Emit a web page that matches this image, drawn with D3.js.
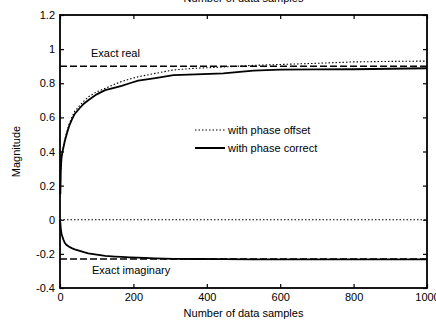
<!DOCTYPE html>
<html>
<head>
<meta charset="utf-8">
<script src="https://cdn.jsdelivr.net/npm/d3@7"></script>
<style>
	body { margin: 0; background: #ffffff; }
	text { font-family: "Liberation Sans", Arial, sans-serif; fill: #000000; }
</style>
</head>
<body>
<div id="chart"></div>
<script>
// number of data samples where the curves were read
const samples = [1, 2, 4, 6, 9, 13, 18, 25, 32, 40, 54, 65, 77, 100, 123, 150, 168, 190, 213, 260, 309, 370, 445, 527, 600, 700, 800, 900, 1000];
const realOffset = [0.15, 0.29, 0.37, 0.40, 0.43, 0.47, 0.51, 0.56, 0.60, 0.635, 0.67, 0.695, 0.72, 0.75, 0.77, 0.795, 0.81, 0.825, 0.838, 0.858, 0.878, 0.888, 0.895, 0.905, 0.91, 0.917, 0.925, 0.928, 0.93];
const realCorrect = [0.15, 0.28, 0.36, 0.39, 0.42, 0.46, 0.50, 0.55, 0.585, 0.62, 0.655, 0.68, 0.70, 0.735, 0.76, 0.775, 0.785, 0.80, 0.815, 0.83, 0.848, 0.852, 0.858, 0.874, 0.88, 0.881, 0.882, 0.885, 0.888];
const imagOffset = [0, 0, 0, 0, 0, 0, 0, 0, 0, 0, 0, 0, 0, 0, 0, 0, 0, 0, 0, 0, 0, 0, 0, 0, 0, 0, 0, 0, 0];
const imagCorrect = [-0.02, -0.05, -0.08, -0.095, -0.115, -0.135, -0.148, -0.158, -0.166, -0.174, -0.183, -0.19, -0.197, -0.205, -0.212, -0.216, -0.218, -0.22, -0.222, -0.226, -0.229, -0.23, -0.231, -0.232, -0.232, -0.232, -0.232, -0.232, -0.232];
const exactReal = 0.9;
const exactImag = -0.23;
const xTicks = [0, 200, 400, 600, 800, 1000];
const yTicks = [-0.4, -0.2, 0, 0.2, 0.4, 0.6, 0.8, 1, 1.2];
const legendLabels = ['with phase offset', 'with phase correct'];

const width = 436;
const height = 322;
const margin = {top: 15, right: 9, bottom: 34, left: 60};

var svg = d3.select('#chart')
	.append('svg')
	.attr('width', width)
	.attr('height', height);

var xScale = d3.scaleLinear()
	.domain([0, 1000])
	.range([margin.left, width - margin.right]);

var yScale = d3.scaleLinear()
	.domain([-0.4, 1.2])
	.range([height - margin.bottom, margin.top]);

const fmt = d => String(+d.toFixed(1));

function styleAxis(g) {
	g.select('.domain').remove();
	g.selectAll('line').attr('stroke', '#000000').attr('stroke-width', 1.2);
	g.selectAll('text').attr('font-size', 11).attr('font-family', '"Liberation Sans", Arial, sans-serif');
}

svg.append('g')
	.attr('transform', `translate(0,${yScale(-0.4)})`)
	.call(d3.axisBottom(xScale).tickValues(xTicks).tickSize(-4).tickPadding(5).tickFormat(d3.format('d')))
	.call(styleAxis);

svg.append('g')
	.attr('transform', `translate(0,${yScale(1.2)})`)
	.call(d3.axisTop(xScale).tickValues(xTicks).tickSize(-4).tickFormat(''))
	.call(styleAxis);

svg.append('g')
	.attr('transform', `translate(${xScale(0)},0)`)
	.call(d3.axisLeft(yScale).tickValues(yTicks).tickSize(-4).tickPadding(5).tickFormat(fmt))
	.call(styleAxis);

svg.append('g')
	.attr('transform', `translate(${xScale(1000)},0)`)
	.call(d3.axisRight(yScale).tickValues(yTicks).tickSize(-4).tickFormat(''))
	.call(styleAxis);

svg.append('rect')
	.attr('x', xScale(0))
	.attr('y', yScale(1.2))
	.attr('width', xScale(1000) - xScale(0))
	.attr('height', yScale(-0.4) - yScale(1.2))
	.attr('fill', 'none')
	.attr('stroke', '#000000')
	.attr('stroke-width', 1.8);

// exact values
svg.selectAll('.exact')
	.data([exactReal, exactImag])
	.enter()
	.append('line')
	.attr('x1', xScale(0))
	.attr('x2', xScale(1000))
	.attr('y1', d => yScale(d))
	.attr('y2', d => yScale(d))
	.attr('stroke', '#000000')
	.attr('stroke-width', 1.4)
	.attr('stroke-dasharray', '7,3');

var line = d3.line()
	.x(d => xScale(d[0]))
	.y(d => yScale(d[1]));

const pairs = (ys) => samples.map((n, i) => [n, ys[i]]);

svg.append('path')
	.datum([[0, 0]].concat(pairs(imagOffset)))
	.attr('d', line)
	.attr('fill', 'none')
	.attr('stroke', '#000000')
	.attr('stroke-width', 1.1)
	.attr('stroke-dasharray', '1.5,2');

svg.append('path')
	.datum(pairs(realOffset))
	.attr('d', line)
	.attr('fill', 'none')
	.attr('stroke', '#000000')
	.attr('stroke-width', 1.1)
	.attr('stroke-dasharray', '1.5,2');

svg.append('path')
	.datum(pairs(realCorrect))
	.attr('d', line)
	.attr('fill', 'none')
	.attr('stroke', '#000000')
	.attr('stroke-width', 1.8);

svg.append('path')
	.datum([[0, 0]].concat(pairs(imagCorrect)))
	.attr('d', line)
	.attr('fill', 'none')
	.attr('stroke', '#000000')
	.attr('stroke-width', 1.8);

// annotations
svg.append('text')
	.attr('x', 91)
	.attr('y', 57)
	.attr('font-size', 11)
	.text('Exact real');

svg.append('text')
	.attr('x', 92)
	.attr('y', 274)
	.attr('font-size', 11)
	.text('Exact imaginary');

// legend
var legend = svg.append('g')
	.selectAll('g')
	.data(legendLabels)
	.enter()
	.append('g')
	.attr('transform', (d, i) => `translate(195, ${130 + i * 18})`);

legend.append('line')
	.attr('x1', 0)
	.attr('x2', 30)
	.attr('stroke', '#000000')
	.attr('stroke-width', (d, i) => i == 0 ? 1.1 : 2)
	.attr('stroke-dasharray', (d, i) => i == 0 ? '1.5,2' : null);

legend.append('text')
	.attr('x', 33)
	.attr('y', 4)
	.attr('font-size', 11)
	.text(d => d);

// axis labels (the top one is the cut off label of the plot above)
svg.append('text')
	.attr('x', (xScale(0) + xScale(1000)) / 2)
	.attr('y', 2)
	.attr('text-anchor', 'middle')
	.attr('font-size', 11)
	.text('Number of data samples');

svg.append('text')
	.attr('x', (xScale(0) + xScale(1000)) / 2)
	.attr('y', 317)
	.attr('text-anchor', 'middle')
	.attr('font-size', 11)
	.text('Number of data samples');

svg.append('text')
	.attr('transform', `translate(20, ${(yScale(-0.4) + yScale(1.2)) / 2}) rotate(-90)`)
	.attr('text-anchor', 'middle')
	.attr('font-size', 11)
	.text('Magnitude');
</script>
</body>
</html>
